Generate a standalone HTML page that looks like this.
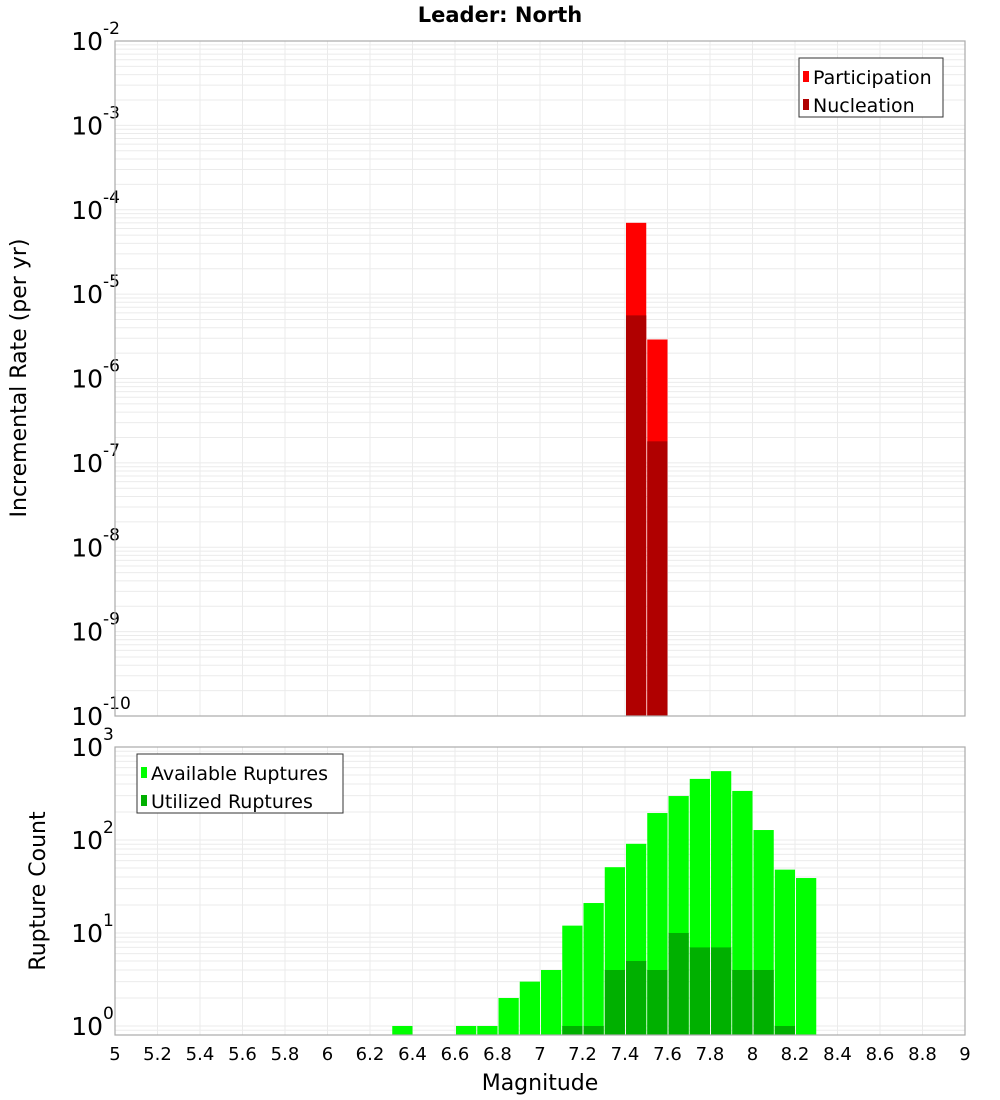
<!DOCTYPE html>
<html><head><meta charset="utf-8"><style>
body{margin:0;background:#fff;}
svg{display:block;font-family:"DejaVu Sans","Liberation Sans",sans-serif;}
</style></head><body>
<svg id="chart" width="1000" height="1100" xmlns="http://www.w3.org/2000/svg">
<text x="500" y="22" text-anchor="middle" font-size="21" font-weight="bold">Leader: North</text>
<g id="top"></g><g id="bot"></g>
<text transform="translate(26,378) rotate(-90)" text-anchor="middle" font-size="22">Incremental Rate (per yr)</text>
<text transform="translate(45,891) rotate(-90)" text-anchor="middle" font-size="22">Rupture Count</text>
<text x="540" y="1090" text-anchor="middle" font-size="22">Magnitude</text>
</svg>
<script>
const partBins=[7.45,7.55];
const partVals=[7e-5,2.9e-6];
const nuclBins=[7.45,7.55];
const nuclVals=[5.6e-6,1.8e-7];
const availBins=[6.35,6.65,6.75,6.85,6.95,7.05,7.15,7.25,7.35,7.45,7.55,7.65,7.75,7.85,7.95,8.05,8.15,8.25];
const availVals=[1,1,1,2,3,4,12,21,51,91,195,297,454,550,337,128,48,39];
const utilBins=[7.15,7.25,7.35,7.45,7.55,7.65,7.75,7.85,7.95,8.05,8.15];
const utilVals=[1,1,4,5,4,10,7,7,4,4,1];
const xTicks=["5","5.2","5.4","5.6","5.8","6","6.2","6.4","6.6","6.8","7","7.2","7.4","7.6","7.8","8","8.2","8.4","8.6","8.8","9"];
const topExps=[-2,-3,-4,-5,-6,-7,-8,-9,-10];
const botExps=[3,2,1,0];
const NS="http://www.w3.org/2000/svg";
const X0=115,X1=965,XMIN=5,XMAX=9;
const x=m=>X0+(m-XMIN)/(XMAX-XMIN)*(X1-X0);
function el(p,t,a){const e=document.createElementNS(NS,t);for(const k in a)e.setAttribute(k,a[k]);p.appendChild(e);return e;}
function panel(g,top,bot,lmax,lmin,exps,name){
  const y=v=>top+(lmax-Math.log10(v))/(lmax-lmin)*(bot-top);
  for(let d=Math.floor(lmin);d<lmax;d++)for(let k=1;k<10;k++){const v=k*Math.pow(10,d);const lv=Math.log10(v);if(lv<lmin||lv>lmax)continue;
    const l=el(g,'line',{x1:X0,x2:X1,y1:y(v),y2:y(v),stroke:'#ebebeb','stroke-width':1});
    
    }
  xTicks.forEach(t=>{const l=el(g,'line',{x1:x(+t),x2:x(+t),y1:top,y2:bot,stroke:'#ebebeb','stroke-width':1});
    
    });
  exps.forEach(e=>{const yy=y(Math.pow(10,e));
    const t=el(g,'text',{x:103,y:yy+9,'text-anchor':'end','font-size':25});
    
    
    t.textContent='10';
    const s=el(g,'text',{x:103,y:yy-7,'font-size':17});
    
    
    s.textContent=String(e);});
  return y;
}
function bars(g,y,bot,bins,vals,fill,name){
  bins.forEach((b,i)=>{const x1=x(b-0.05)+1,x2=x(b+0.05);const yt=y(vals[i]);
    const r=el(g,'rect',{x:x1,y:yt,width:x2-x1,height:bot-yt,fill:fill});
    
    });
}
function legend(g,lx,ly,w,items,name){
  const b=el(g,'rect',{x:lx,y:ly,width:w,height:59,fill:'#fff',stroke:'#333','stroke-width':1});
  
  
  items.forEach((it,i)=>{const yy=ly+19+i*28;
    const s=el(g,'rect',{x:lx+4,y:yy-6,width:6,height:11,fill:it[1]});
    
    
    const t=el(g,'text',{x:lx+14,y:yy+7,'font-size':19});
    
    
    t.textContent=it[0];});
}
const gt=document.getElementById('top'),gb=document.getElementById('bot');
const yt=panel(gt,41,716,-2,-10,topExps,'top');
bars(gt,yt,716,partBins,partVals,'#ff0000','participation');
bars(gt,yt,716,nuclBins,nuclVals,'#b00000','nucleation');
let f=el(gt,'rect',{x:X0,y:41,width:X1-X0,height:675,fill:'none',stroke:'#aaa','stroke-width':1.2});


legend(gt,799,58,144,[['Participation','#ff0000'],['Nucleation','#b00000']],'top');
const BT=747,BB=1035,LMIN=Math.log10(0.8);
const yb=panel(gb,BT,BB,3,LMIN,botExps,'bottom');
bars(gb,yb,BB,availBins,availVals,'#00ff00','available');
bars(gb,yb,BB,utilBins,utilVals,'#00b000','utilized');
f=el(gb,'rect',{x:X0,y:BT,width:X1-X0,height:BB-BT,fill:'none',stroke:'#aaa','stroke-width':1.2});


legend(gb,137,754,206,[['Available Ruptures','#00ff00'],['Utilized Ruptures','#00b000']],'bottom');
xTicks.forEach(t=>{const e=el(gb,'text',{x:x(+t),y:1060,'text-anchor':'middle','font-size':18});
  
  
  e.textContent=t;});
</script>
</body></html>
